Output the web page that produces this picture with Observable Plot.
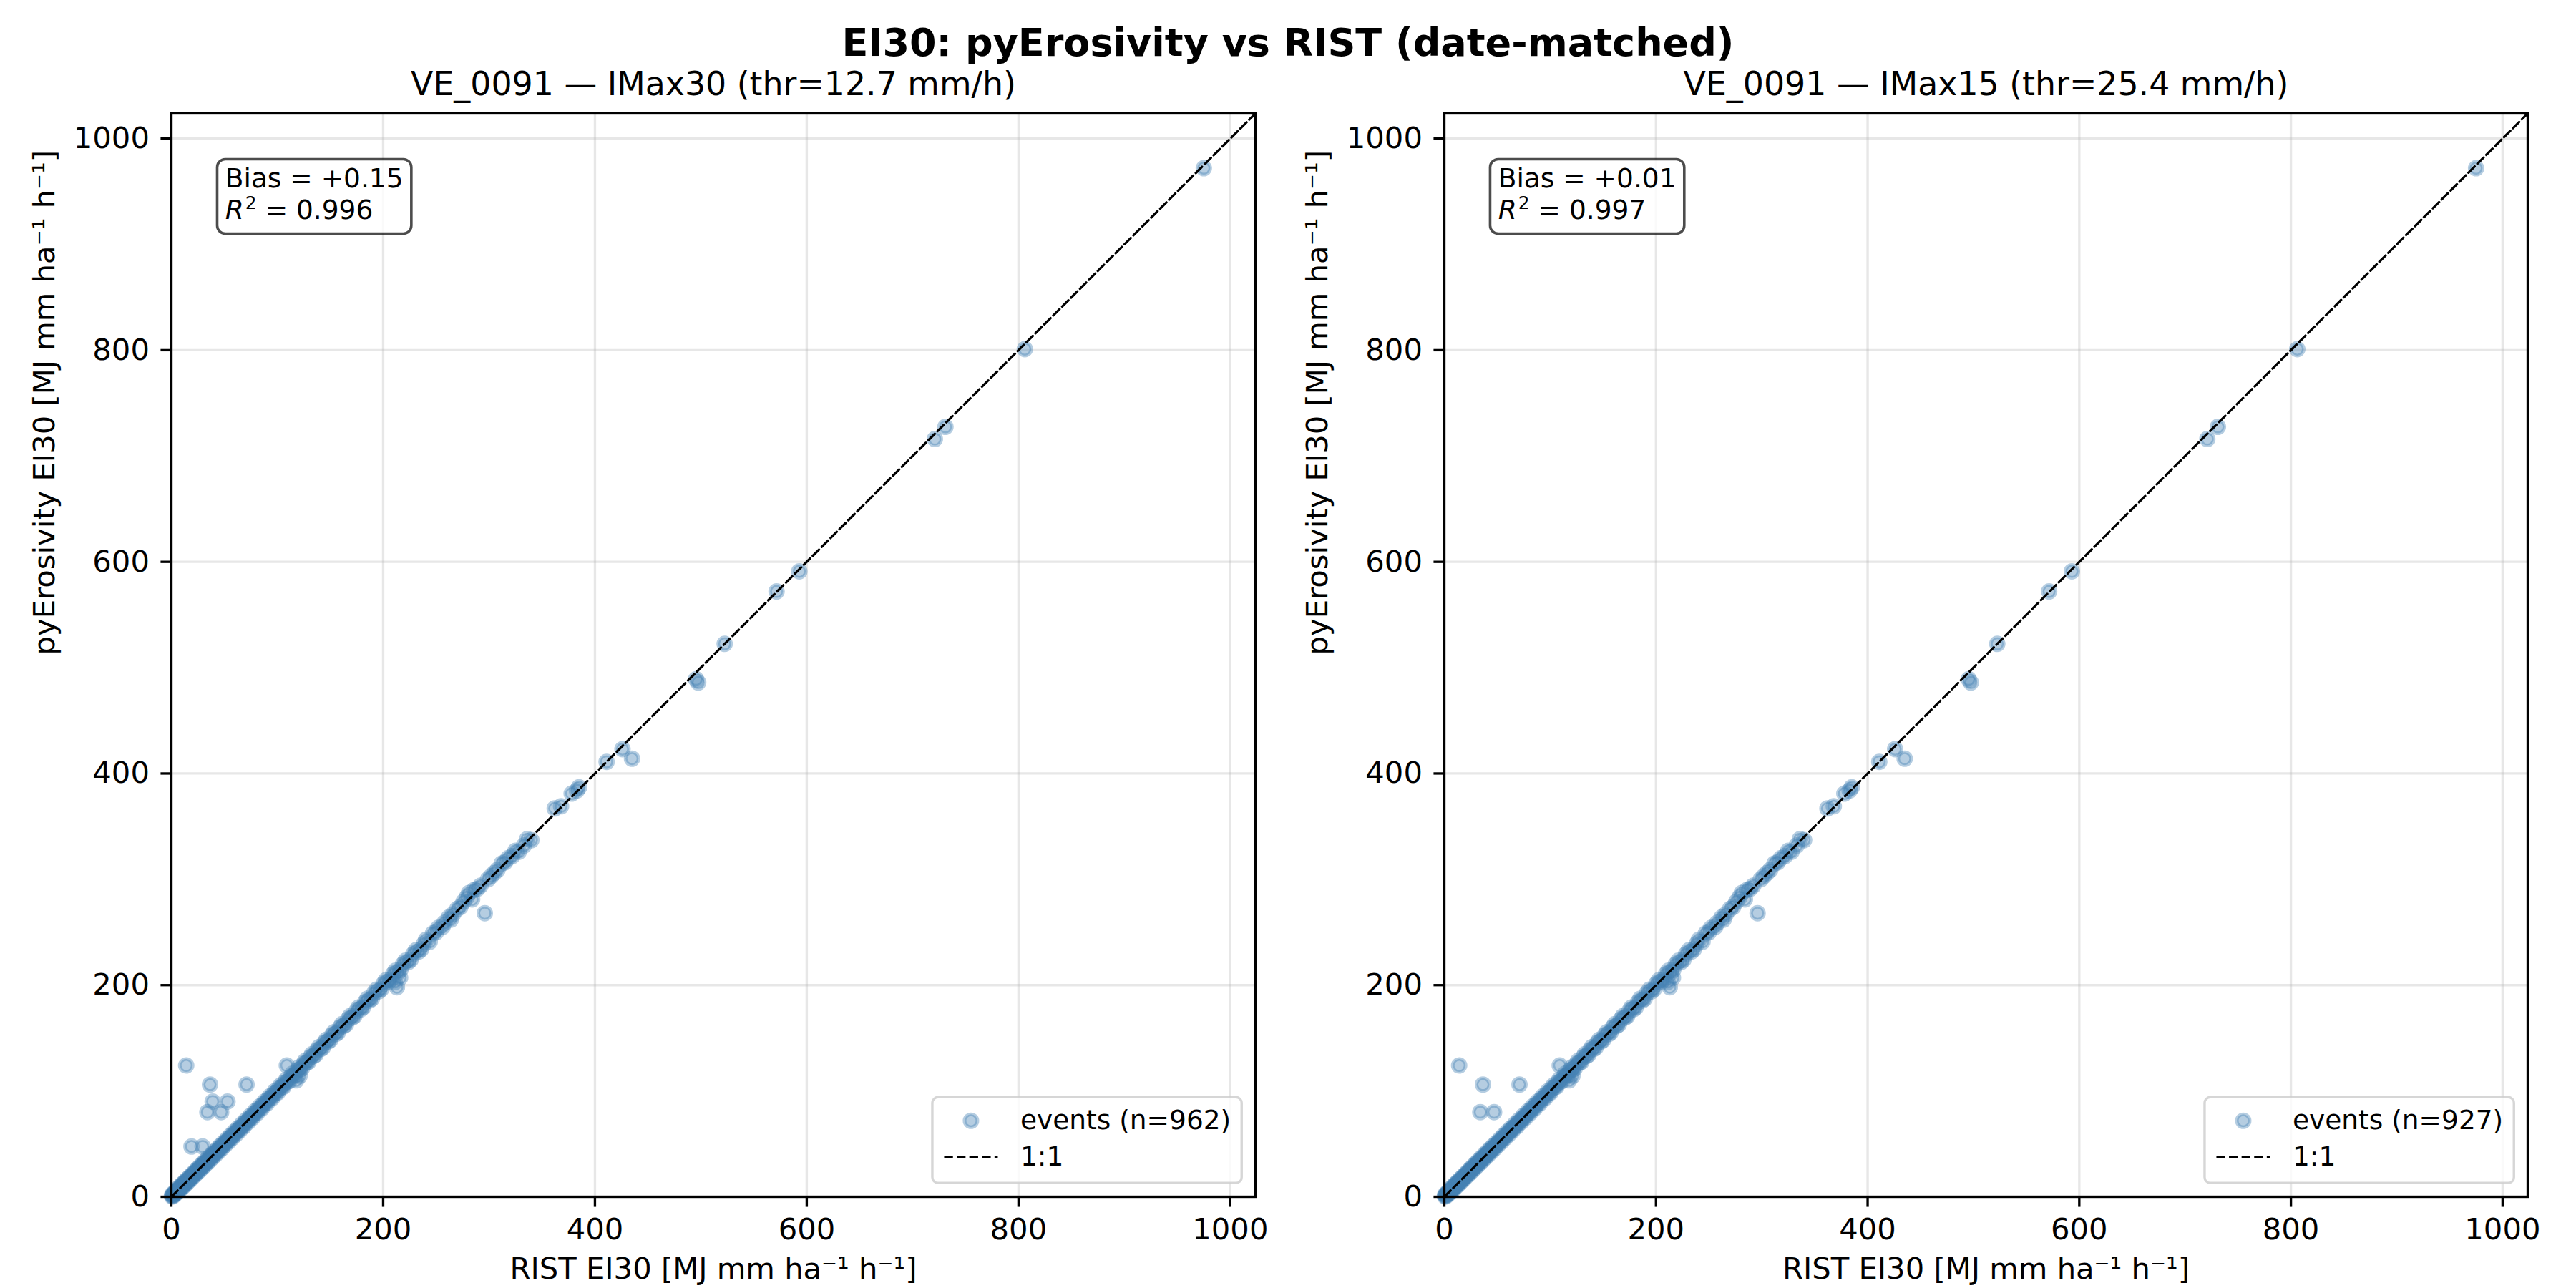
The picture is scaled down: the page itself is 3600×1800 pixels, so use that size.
<!DOCTYPE html>
<html>
<head>
<meta charset="utf-8">
<script src="https://cdn.jsdelivr.net/npm/d3@7"></script>
<script src="https://cdn.jsdelivr.net/npm/@observablehq/plot@0.6"></script>
<style>
  html, body { margin: 0; padding: 0; background: #ffffff; }
  #fig { position: relative; width: 3600px; height: 1800px; overflow: hidden; background: #ffffff; font-family: "DejaVu Sans", sans-serif; }
  .panel { position: absolute; top: 100px; }
  .overlay { position: absolute; left: 0; top: 0; pointer-events: none; }
</style>
</head>
<body>
<div id="fig"></div>
<script>
// ---- Text ------------------------------------------------------------------
const SUPTITLE = "EI30: pyErosivity vs RIST (date-matched)";
const PANEL_TITLES = ["VE_0091 — IMax30 (thr=12.7 mm/h)", "VE_0091 — IMax15 (thr=25.4 mm/h)"];
const X_LABEL = "RIST EI30 [MJ mm ha⁻¹ h⁻¹]";
const Y_LABEL = "pyErosivity EI30 [MJ mm ha⁻¹ h⁻¹]";
const TICKS = [0, 200, 400, 600, 800, 1000];
const EVENT_COUNTS = [962, 927];
const BIAS = ["+0.15", "+0.01"];
const R2 = ["0.996", "0.997"];

// ---- Events: [RIST EI30, pyErosivity EI30] ---------------------------------
// Events on the 1:1 line, present in both threshold runs.
const bandEvents = [
  [0.5,0.5],[1.1,1.2],[1.8,1.7],[2.4,2.5],[3.0,3.1],[3.7,3.6],[4.3,4.4],[5.0,5.1],[5.8,5.7],[6.5,6.6],
  [7.3,7.2],[8.0,8.1],[8.8,8.9],[9.7,9.6],[10.5,10.6],[11.4,11.3],[12.2,12.3],[13.1,13.2],[14.0,13.9],[14.9,15.0],
  [15.9,15.8],[16.8,16.9],[17.8,17.7],[18.7,18.9],[19.7,19.6],[20.8,20.9],[21.8,21.7],[22.9,23.0],[23.9,23.8],[25.0,25.2],
  [26.1,26.0],[27.3,27.4],[28.4,28.2],[29.6,29.8],[30.8,30.6],[32.0,32.2],[33.2,33.0],[34.5,34.7],[35.8,35.6],[37.1,37.3],
  [38.4,38.2],[39.8,40.0],[41.2,41.0],[42.6,42.8],[44.0,43.7],[45.5,45.8],[47.0,46.8],[48.5,48.8],[50.1,49.8],[51.7,52.0],
  [53.3,53.0],[55.0,55.3],[56.7,56.4],[58.4,58.7],[60.2,59.9],[62.0,62.3],[63.8,63.5],[65.7,66.0],[67.6,67.2],[69.6,69.9],
  [71.6,71.2],[73.6,74.0],[75.7,75.3],[77.8,78.2],[80.0,79.5],[82.2,82.6],[84.5,84.0],[86.8,87.2],[89.2,88.6],[91.6,92.1],
  [94.1,93.5],[96.6,97.0],[99.2,98.5],[101.8,102.3],[104.5,103.7],[107.2,107.8],[110.0,108.9],[112.9,113.4],[115.8,114.6],[118.8,119.3],
  [121.8,120.5],[124.9,125.5],[128.0,126.8],[131.2,131.8],[134.5,133.1],[137.8,138.5],[141.2,139.8],[144.7,145.4],[148.2,146.9],[151.8,152.6],
  [155.5,154.0],[159.2,160.0],[163.0,161.5],[166.9,167.7],[170.8,169.3],[174.8,175.6],[178.9,177.2],[183.0,183.9],[187.2,185.5],[191.5,192.4],
  [195.9,194.1],[200.3,201.2],[204.8,203.0],[209.4,210.3],[214.0,212.1],[218.7,219.6],[223.5,221.7],[228.4,229.3],[233.4,231.6],[238.4,239.0]
];

// Events lying just beside the 1:1 line, present in both runs.
const bandSpread = [
  [0.8,2.0],[1.5,0.4],[2.7,3.9],[3.4,2.2],[4.7,5.9],[5.4,4.1],[6.9,8.3],[7.7,6.2],[8.4,9.9],[9.2,7.8],
  [10.1,11.6],[11.0,9.5],[11.8,13.3],[12.7,11.2],[13.6,15.1],[14.5,13.0],[15.4,16.9],[16.3,14.8],[17.3,18.8],[18.2,16.7],
  [19.2,20.7],[20.2,18.7],[21.3,22.9],[22.3,20.7],[23.4,25.0],[24.4,22.8],[25.5,27.2],[26.7,25.0],[27.8,29.5],[29.0,27.3],
  [30.2,31.9],[31.4,29.7],[32.6,34.4],[33.8,32.0],[35.1,36.9],[36.4,34.6],[37.7,39.5],[39.1,37.3],[40.5,42.4],[41.9,40.0],
  [43.3,45.2],[44.7,42.8],[46.2,48.1],[47.7,45.8],[49.3,51.2],[50.9,49.0],[52.5,54.4],[54.1,52.2],[55.8,57.8],[57.5,55.5],
  [59.3,61.3],[61.1,59.1],[62.9,64.9],[64.7,62.7],[66.6,68.6],[68.6,66.6],[70.6,72.6],[72.6,70.6],[74.6,76.6],[76.7,74.7],
  [78.9,80.9],[81.1,79.1],[83.3,85.3],[85.6,83.6],[88.0,90.0],[90.4,88.4],[92.8,94.8],[95.3,93.3],[97.9,99.9],[100.5,98.5],
  [103.1,105.1],[105.8,103.8],[108.6,110.6],[111.4,109.4],[114.3,116.3],[117.3,115.3],[120.3,122.3],[123.3,121.3],[126.4,128.4],[129.6,127.6],
  [132.8,134.8],[136.1,134.1],[139.5,141.5],[142.9,140.9],[146.4,148.4],[150.0,148.0],[153.6,155.6],[157.3,155.3],[161.1,163.1],[164.9,162.9],
  [168.8,170.8],[172.8,170.8],[176.8,178.8],[180.9,178.9],[185.1,187.1],[189.3,187.3],[193.7,195.7],[198.1,196.1],[202.5,204.5],[207.1,205.1],
  [211.7,213.7],[216.3,214.3],[221.1,223.1],[225.9,223.9],[230.9,232.9],[235.9,233.9]
];

// Larger events, present in both runs.
const largeEvents = [
  [240.5,243],[244,241],[247,249],[250,250],[252,254],[256,255],[258,259],[262,264],[264,262],[266,267],
  [270,272],[273,274],[276,279],[279,283],[281,287],[284,281],[286,290],[289,291],[292,294],[296,268],
  [299,300],[302,303],[305,306],[308,309],[312,315],[315,316],[318,320],[322,322],[325,327],[328,326],
  [333,332],[336,338],[340,337],[362,367],[368,369],[378,381],[383,384],[385,387],[411,411],[426,423],
  [435,414],[495.5,489],[497.5,486],[522.5,522.5],[571.5,572],[593,591],[721,716],[731,727.5],[806,801],[975,972]
];

// Off-line events, present in both runs.
const offLineShared = [
  [14,124],[36.5,106],[71,106],[109,124],[34,80],[47,80],[118,110],[121,114],[211,203],[213,198],[216,207]
];

// Off-line events found only with the IMax30 threshold.
const offLineIMax30 = [
  [39,90],[53,90],[19,47.5],[29.5,47.5]
];

const toRows = pairs => pairs.map(([rist, py]) => ({rist, py}));
const shared = [...bandEvents, ...bandSpread, ...largeEvents, ...offLineShared];
const panelData = [
  toRows([...shared, ...offLineIMax30]),
  toRows(shared)
];

// Shared square limits: 5% beyond the largest value of either axis.
const LIM = 1.05 * d3.max(panelData.flat(), d => Math.max(d.rist, d.py));

// ---- Layout ----------------------------------------------------------------
const PT = 300 / 72;                 // px per point
const COLOR = "steelblue";
const DOT_R = 9, DOT_SW = 5;
const PANEL_TOP = 100, PANEL_W = 1800, PANEL_H = 1700;
const MARGIN_TOP = 58, MARGIN_BOTTOM = 128;
const panels = [
  {left: 0,    marginLeft: 239, marginRight: 46},
  {left: 1800, marginLeft: 218, marginRight: 68}
];
const FRAME_TOP = PANEL_TOP + MARGIN_TOP;
const FRAME_H = PANEL_H - MARGIN_TOP - MARGIN_BOTTOM;
const FRAME_BOTTOM = FRAME_TOP + FRAME_H;

const fig = document.getElementById("fig");

panels.forEach((p, i) => {
  const chart = Plot.plot({
    width: PANEL_W,
    height: PANEL_H,
    marginLeft: p.marginLeft,
    marginRight: p.marginRight,
    marginTop: MARGIN_TOP,
    marginBottom: MARGIN_BOTTOM,
    x: {domain: [0, LIM]},
    y: {domain: [0, LIM]},
    style: {fontFamily: "'DejaVu Sans', sans-serif", fontSize: "41.7px", color: "black", background: "transparent", overflow: "visible"},
    marks: [
      Plot.gridX(TICKS, {stroke: "#b0b0b0", strokeOpacity: 0.3, strokeWidth: 0.8 * PT}),
      Plot.gridY(TICKS, {stroke: "#b0b0b0", strokeOpacity: 0.3, strokeWidth: 0.8 * PT}),
      Plot.dot(panelData[i], {
        x: "rist", y: "py", r: DOT_R,
        fill: COLOR, fillOpacity: 0.4,
        stroke: COLOR, strokeOpacity: 0.4, strokeWidth: DOT_SW
      }),
      Plot.line([[0, 0], [LIM, LIM]], {stroke: "black", strokeWidth: 0.8 * PT, strokeDasharray: "12.3,5.3"}),
      Plot.frame({stroke: "black", strokeWidth: 0.8 * PT}),
      Plot.axisX(TICKS, {tickSize: 3.5 * PT, tickPadding: 15.4, strokeWidth: 0.8 * PT, fontSize: 41.7, tickFormat: d => String(d), label: null}),
      Plot.axisY(TICKS, {tickSize: 3.5 * PT, tickPadding: 16, strokeWidth: 0.8 * PT, fontSize: 41.7, tickFormat: d => String(d), label: null}),
      Plot.text([PANEL_TITLES[i]], {text: d => d, frameAnchor: "top", dy: -26, lineAnchor: "bottom", fontSize: 45.8}),
      Plot.text([X_LABEL], {text: d => d, frameAnchor: "bottom", dy: 114, lineAnchor: "bottom", fontSize: 41.7}),
      Plot.text([Y_LABEL], {text: d => d, frameAnchor: "left", dx: -164, rotate: -90, lineAnchor: "bottom", fontSize: 41.7})
    ]
  });
  const holder = document.createElement("div");
  holder.className = "panel";
  holder.style.left = p.left + "px";
  holder.appendChild(chart);
  fig.appendChild(holder);
});

// ---- Figure title, statistics boxes, legends --------------------------------
const overlay = d3.select(fig).append("svg")
  .attr("class", "overlay")
  .attr("width", 3600).attr("height", 1800)
  .style("font-family", "'DejaVu Sans', sans-serif");

overlay.append("text")
  .attr("x", 1800).attr("y", 78)
  .attr("text-anchor", "middle")
  .attr("font-weight", "bold")
  .attr("font-size", 54)
  .text(SUPTITLE);

panels.forEach((p, i) => {
  const frameLeft = p.left + p.marginLeft;
  const frameRight = p.left + PANEL_W - p.marginRight;
  const frameW = frameRight - frameLeft;
  const fs = 9 * PT;

  // statistics box at axes fraction (0.05, 0.95)
  const tx = frameLeft + 0.05 * frameW;
  const ttop = FRAME_TOP + 0.05 * FRAME_H;
  const pad = 0.3 * fs;
  const box = overlay.append("g");
  const rect = box.append("rect");
  const l1 = box.append("text").attr("x", tx).attr("y", ttop + 28.5).attr("font-size", fs)
    .text(`Bias = ${BIAS[i]}`);
  const l2 = box.append("text").attr("x", tx).attr("y", ttop + 72.5).attr("font-size", fs);
  l2.append("tspan").attr("font-style", "italic").text("R");
  l2.append("tspan").attr("font-size", 25).attr("dy", -14).attr("dx", 2).text("2");
  l2.append("tspan").attr("dy", 14).text(` = ${R2[i]}`);
  const tw = Math.max(l1.node().getComputedTextLength(), l2.node().getComputedTextLength());
  rect.attr("x", tx - pad).attr("y", ttop - pad)
    .attr("width", tw + 2 * pad).attr("height", 104)
    .attr("rx", pad).attr("ry", pad)
    .attr("fill", "rgba(255,255,255,0.8)")
    .attr("stroke", "rgba(0,0,0,0.7)")
    .attr("stroke-width", 3.6);

  // legend, lower right
  const lg = overlay.append("g");
  const lrect = lg.append("rect");
  const lt1 = lg.append("text").attr("font-size", fs).text(`events (n=${EVENT_COUNTS[i]})`);
  const lt2 = lg.append("text").attr("font-size", fs).text("1:1");
  const ltw = lt1.node().getComputedTextLength();
  const w = 123 + ltw + 15, h = 120;
  const x0 = frameRight - 0.5 * fs - w;
  const y0 = FRAME_BOTTOM - 0.5 * fs - h;
  lrect.attr("x", x0).attr("y", y0).attr("width", w).attr("height", h)
    .attr("rx", 8).attr("ry", 8)
    .attr("fill", "rgba(255,255,255,0.8)")
    .attr("stroke", "rgba(204,204,204,0.8)")
    .attr("stroke-width", 3.4);
  lg.append("circle").attr("cx", x0 + 16.5 + 37.5).attr("cy", y0 + 33).attr("r", DOT_R)
    .attr("fill", COLOR).attr("fill-opacity", 0.4)
    .attr("stroke", COLOR).attr("stroke-opacity", 0.4).attr("stroke-width", DOT_SW);
  lg.append("line").attr("x1", x0 + 16.5).attr("x2", x0 + 16.5 + 75)
    .attr("y1", y0 + 84).attr("y2", y0 + 84)
    .attr("stroke", "black").attr("stroke-width", 0.8 * PT).attr("stroke-dasharray", "12.3,5.3");
  lt1.attr("x", x0 + 123).attr("y", y0 + 45);
  lt2.attr("x", x0 + 123).attr("y", y0 + 96);
});
</script>
</body>
</html>
